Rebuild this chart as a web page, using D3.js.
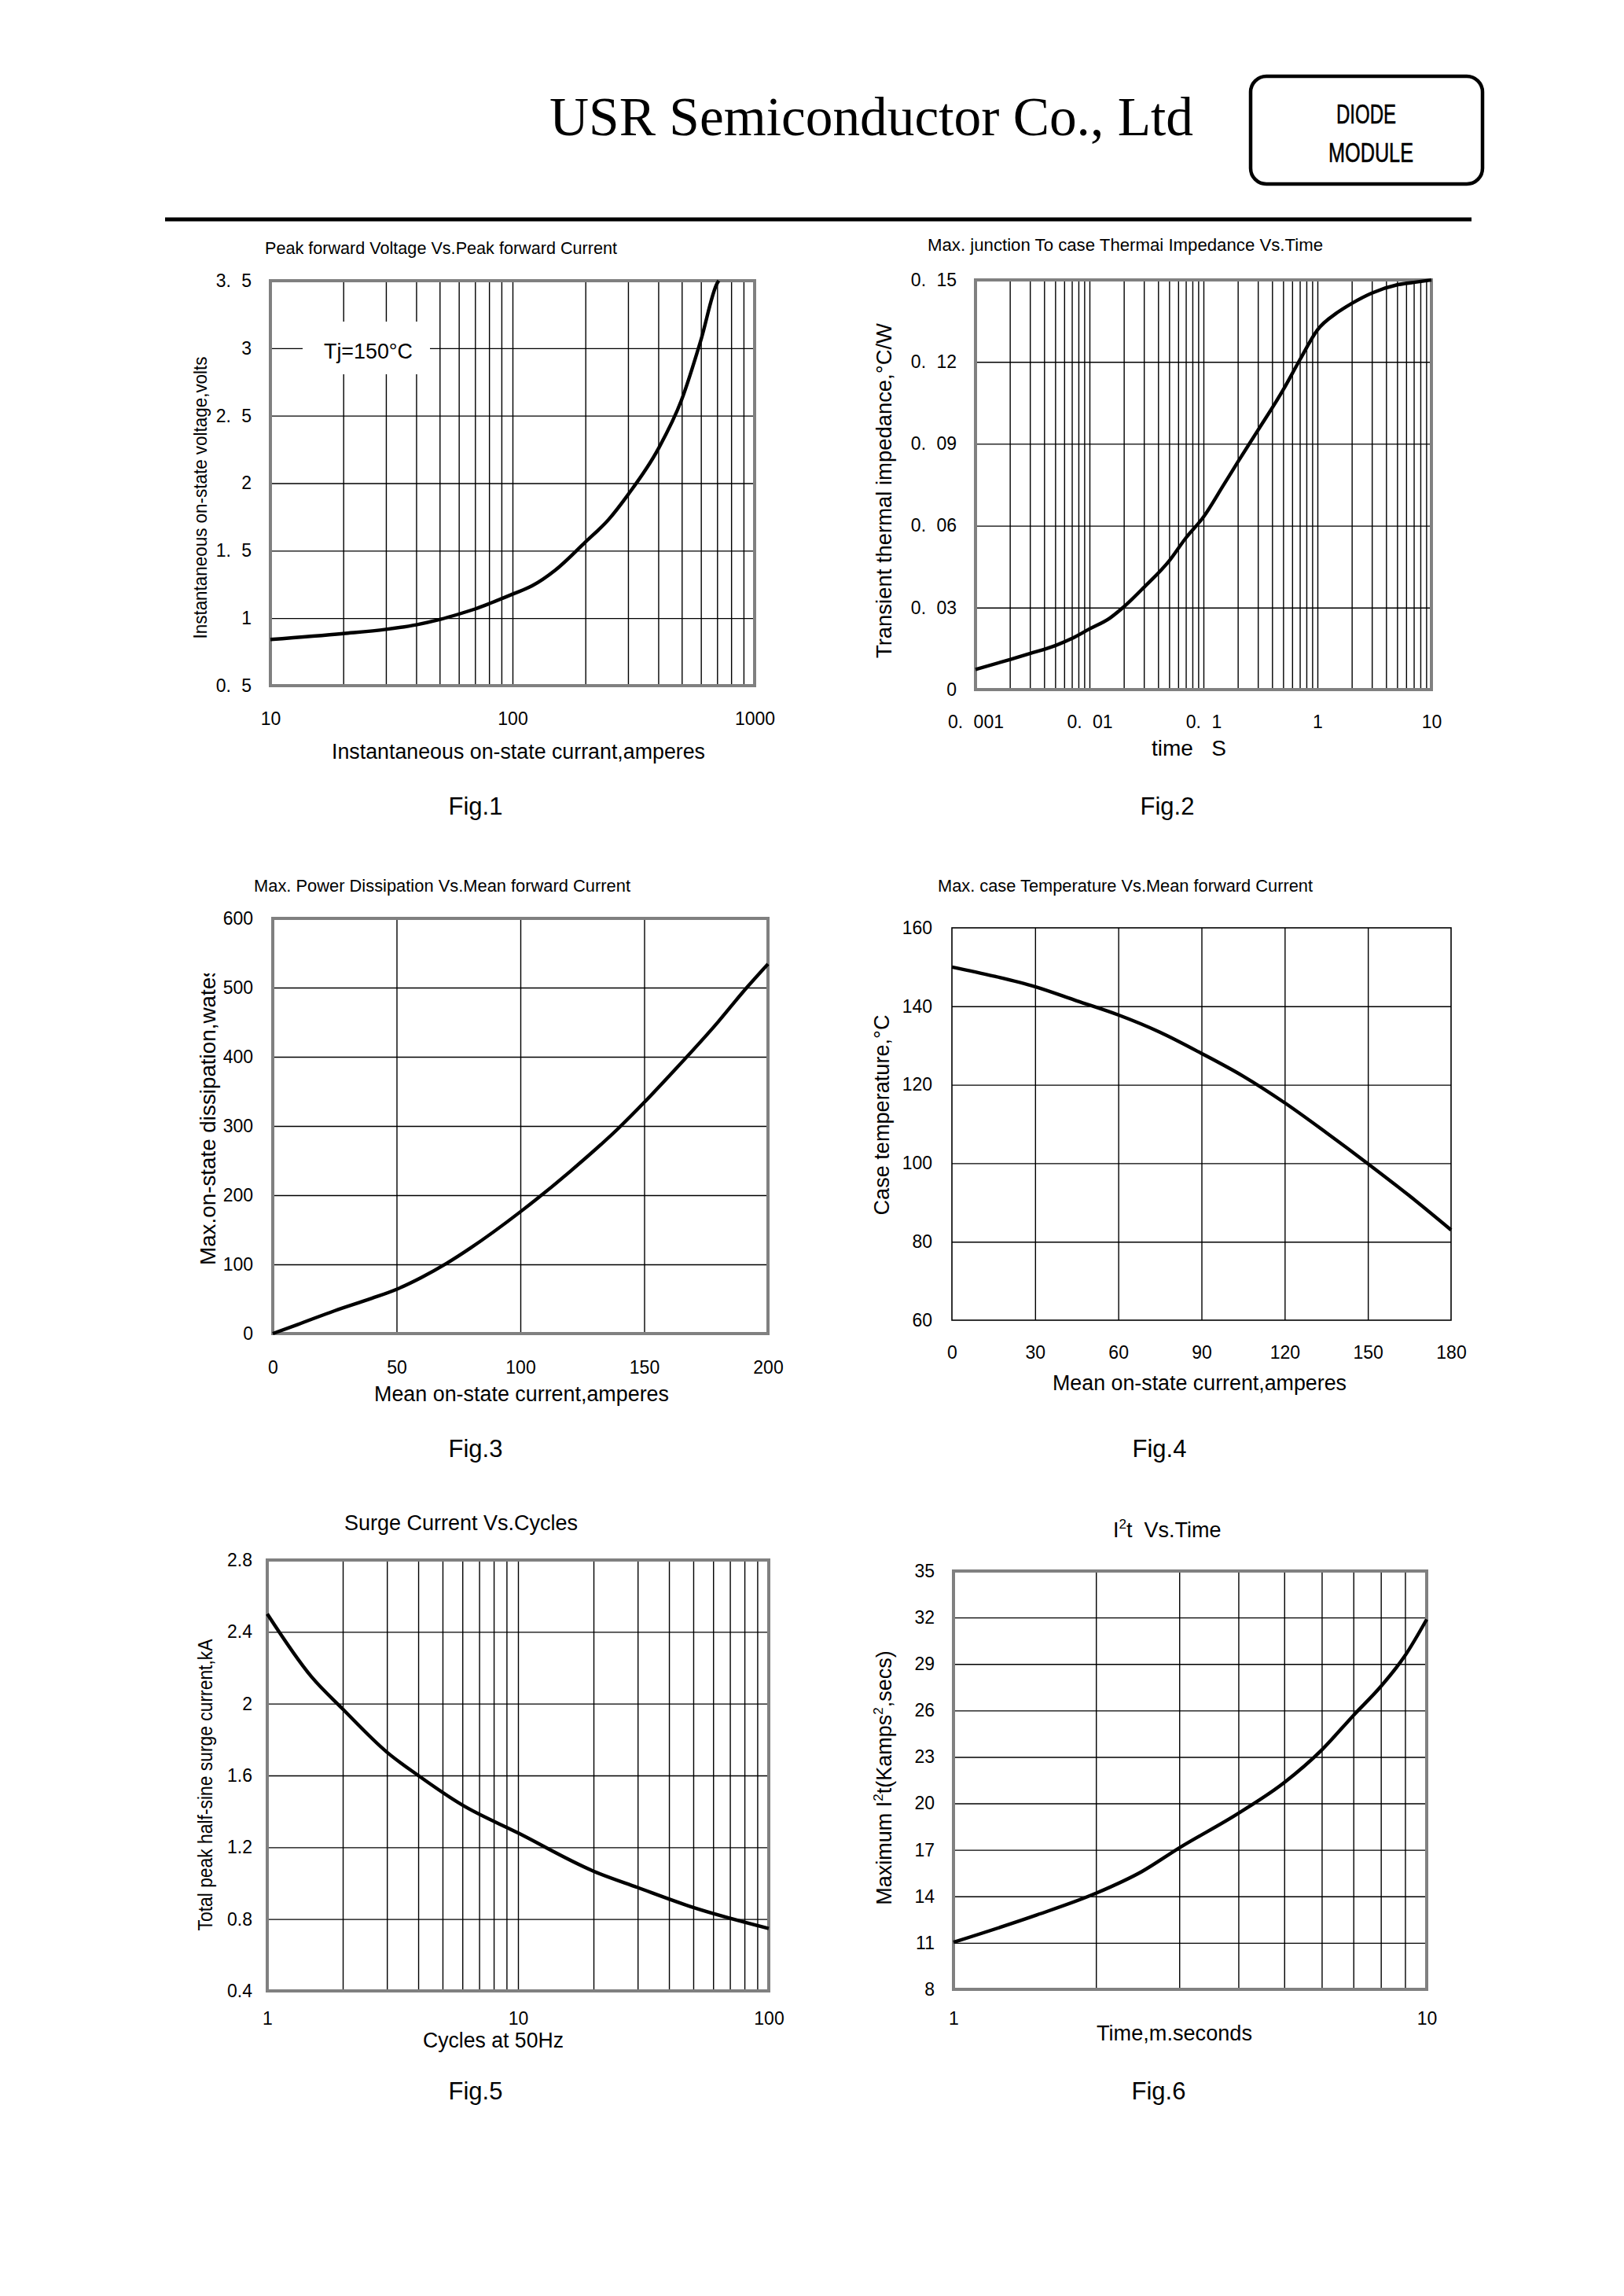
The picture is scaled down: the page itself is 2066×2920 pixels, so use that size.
<!DOCTYPE html>
<html>
<head>
<meta charset="utf-8">
<script src="https://cdn.jsdelivr.net/npm/d3@7"></script>
<style>
  body { margin: 0; background: #fff; }
  svg text { font-family: "Liberation Sans", Arial, sans-serif; fill: #000; white-space: pre; }
</style>
</head>
<body>
<div id="page"></div>
<script>
/**
 * DATA
 * */
const width = 2066, height = 2920;

// Fig.1 peak forward voltage vs current
const fig1Current = [10, 20, 30, 40, 50, 60, 70, 80, 100, 120, 150, 200, 250, 300, 400, 500, 600, 700, 711];
const fig1Voltage = [0.842, 0.886, 0.917, 0.951, 0.99, 1.03, 1.068, 1.107, 1.178, 1.238, 1.355, 1.564, 1.733, 1.915, 2.254, 2.62, 3.06, 3.48, 3.5];
const fig1YTicks = [0.5, 1, 1.5, 2, 2.5, 3, 3.5];
const fig1YLabels = ["0. 5", "1", "1. 5", "2", "2. 5", "3", "3. 5"];
const fig1XTicks = [10, 100, 1000];
const fig1XLabels = ["10", "100", "1000"];
const fig1XGrid = [20, 30, 40, 50, 60, 70, 80, 90, 100, 200, 300, 400, 500, 600, 700, 800, 900];
const fig1YGrid = [1, 1.5, 2, 2.5, 3];

// Fig.2 transient thermal impedance vs time
const fig2Time = [0.001, 0.002, 0.003, 0.005, 0.007, 0.01, 0.015, 0.02, 0.03, 0.05, 0.07, 0.1, 0.15, 0.2, 0.3, 0.5, 0.7, 1, 1.5, 2, 3, 5, 7, 10];
const fig2Zth = [0.0074, 0.011, 0.0132, 0.0161, 0.0187, 0.0222, 0.0261, 0.0303, 0.0374, 0.0471, 0.0555, 0.0632, 0.0749, 0.0833, 0.0949, 0.1097, 0.1207, 0.1317, 0.1381, 0.1414, 0.1452, 0.1482, 0.1491, 0.15];
const fig2YTicks = [0, 0.03, 0.06, 0.09, 0.12, 0.15];
const fig2YLabels = ["0", "0. 03", "0. 06", "0. 09", "0. 12", "0. 15"];
const fig2XTicks = [0.001, 0.01, 0.1, 1, 10];
const fig2XLabels = ["0. 001", "0. 01", "0. 1", "1", "10"];
const fig2XGrid = [0.002, 0.003, 0.004, 0.005, 0.006, 0.007, 0.008, 0.009, 0.01,
  0.02, 0.03, 0.04, 0.05, 0.06, 0.07, 0.08, 0.09, 0.1,
  0.2, 0.3, 0.4, 0.5, 0.6, 0.7, 0.8, 0.9, 1,
  2, 3, 4, 5, 6, 7, 8, 9];
const fig2YGrid = [0.03, 0.06, 0.09, 0.12];

// Fig.3 power dissipation vs mean current
const fig3Current = [0, 10, 25, 40, 50, 60, 70, 80, 100, 120, 140, 150, 160, 180, 190, 200];
const fig3Power = [0, 13, 33, 51, 64, 81, 101, 124, 176, 234, 298, 334, 372, 451, 494, 534];
const fig3YTicks = [0, 100, 200, 300, 400, 500, 600];
const fig3XTicks = [0, 50, 100, 150, 200];
const fig3XGrid = [50, 100, 150];
const fig3YGrid = [100, 200, 300, 400, 500];

// Fig.4 case temperature vs mean current
const fig4Current = [0, 15, 30, 45, 60, 75, 90, 105, 120, 135, 150, 165, 180];
const fig4Temp = [150.0, 147.7, 145.0, 141.4, 137.8, 133.4, 128.0, 122.2, 115.4, 107.8, 99.9, 91.7, 83.0];
const fig4YTicks = [60, 80, 100, 120, 140, 160];
const fig4XTicks = [0, 30, 60, 90, 120, 150, 180];
const fig4XGrid = [30, 60, 90, 120, 150];
const fig4YGrid = [80, 100, 120, 140];

// Fig.5 surge current vs cycles
const fig5Cycles = [1, 1.5, 2, 3, 4, 6, 10, 20, 30, 50, 100];
const fig5Surge = [2.5, 2.15, 1.97, 1.73, 1.6, 1.435, 1.28, 1.067, 0.976, 0.865, 0.748];
const fig5YTicks = [0.4, 0.8, 1.2, 1.6, 2, 2.4, 2.8];
const fig5YLabels = ["0.4", "0.8", "1.2", "1.6", "2", "2.4", "2.8"];
const fig5XTicks = [1, 10, 100];
const fig5XGrid = [2, 3, 4, 5, 6, 7, 8, 9, 10, 20, 30, 40, 50, 60, 70, 80, 90];
const fig5YGrid = [0.8, 1.2, 1.6, 2, 2.4];

// Fig.6 I2t vs time
const fig6Time = [1, 1.5, 2, 2.5, 3, 4, 5, 6, 7, 8, 9, 10];
const fig6I2t = [11.04, 12.8, 14.2, 15.6, 17.13, 19.36, 21.35, 23.45, 25.68, 27.55, 29.54, 31.88];
const fig6YTicks = [8, 11, 14, 17, 20, 23, 26, 29, 32, 35];
const fig6XTicks = [1, 10];
const fig6XGrid = [2, 3, 4, 5, 6, 7, 8, 9];
const fig6YGrid = [11, 14, 17, 20, 23, 26, 29, 32];

/**
 * PAGE
 * */
const svg = d3.select("#page").append("svg")
  .attr("width", width)
  .attr("height", height);

svg.append("rect").attr("width", width).attr("height", height).attr("fill", "#fff");

// header
svg.append("text")
  .attr("x", 699).attr("y", 172)
  .attr("textLength", 819).attr("lengthAdjust", "spacingAndGlyphs")
  .style("font-family", "'Liberation Serif', 'Times New Roman', serif")
  .attr("font-size", 70)
  .text("USR Semiconductor Co., Ltd");

svg.append("rect")
  .attr("x", 1591).attr("y", 97).attr("width", 295).attr("height", 137)
  .attr("rx", 20).attr("fill", "none").attr("stroke", "#000").attr("stroke-width", 4.5);
svg.append("text").attr("x", 1700).attr("y", 157)
  .attr("textLength", 76).attr("lengthAdjust", "spacingAndGlyphs")
  .attr("stroke", "#000").attr("stroke-width", 0.6)
  .attr("font-size", 35).text("DIODE");
svg.append("text").attr("x", 1690).attr("y", 206)
  .attr("textLength", 108).attr("lengthAdjust", "spacingAndGlyphs")
  .attr("stroke", "#000").attr("stroke-width", 0.6)
  .attr("font-size", 35).text("MODULE");

svg.append("line")
  .attr("x1", 210).attr("x2", 1872).attr("y1", 279).attr("y2", 279)
  .attr("stroke", "#000").attr("stroke-width", 5);

/**
 * PANEL FUNCTION
 * */
function panel(cfg) {
  const x = cfg.x, y = cfg.y;
  const [x0, x1] = x.range();
  const [y0, y1] = y.range(); // y0 = bottom, y1 = top
  const g = svg.append("g");

  // grid
  g.append("g").attr("transform", `translate(0,${y0})`)
    .call(d3.axisBottom(x).tickValues(cfg.xGrid).tickSize(-(y0 - y1)).tickFormat(""))
    .call(a => a.select(".domain").remove())
    .selectAll("line").attr("stroke", "#000").attr("stroke-width", 1.4);
  g.append("g").attr("transform", `translate(${x0},0)`)
    .call(d3.axisLeft(y).tickValues(cfg.yGrid).tickSize(-(x1 - x0)).tickFormat(""))
    .call(a => a.select(".domain").remove())
    .selectAll("line").attr("stroke", "#000").attr("stroke-width", 1.4);

  if (cfg.note) cfg.note(g, x, y);

  // frame
  g.append("rect")
    .attr("x", x0).attr("y", y1).attr("width", x1 - x0).attr("height", y0 - y1)
    .attr("fill", "none")
    .attr("stroke", cfg.frameColor).attr("stroke-width", cfg.frameWidth);

  // curve
  g.append("path")
    .datum(d3.zip(cfg.xs, cfg.ys))
    .attr("fill", "none").attr("stroke", "#000").attr("stroke-width", 4.4)
    .attr("stroke-linejoin", "round")
    .attr("d", d3.line().x(d => x(d[0])).y(d => y(d[1])).curve(d3.curveMonotoneX));

  // tick labels
  g.append("g").attr("transform", `translate(${x0},0)`)
    .call(d3.axisLeft(y).tickValues(cfg.yTicks).tickSize(0).tickPadding(cfg.yPad)
      .tickFormat((d, i) => cfg.yLabels ? cfg.yLabels[i] : d))
    .call(a => a.select(".domain").remove())
    .attr("font-size", 23).attr("font-family", null)
    .style("word-spacing", "7px");
  g.append("g").attr("transform", `translate(0,${y0})`)
    .call(d3.axisBottom(x).tickValues(cfg.xTicks).tickSize(0).tickPadding(cfg.xPad)
      .tickFormat((d, i) => cfg.xLabels ? cfg.xLabels[i] : d))
    .call(a => a.select(".domain").remove())
    .attr("font-size", 23).attr("font-family", null)
    .style("word-spacing", "7px");

  // chart title
  const t = g.append("text")
    .attr("x", cfg.title.x).attr("y", cfg.title.y)
    .attr("font-size", cfg.title.size || 22);
  if (cfg.title.len) t.attr("textLength", cfg.title.len).attr("lengthAdjust", "spacingAndGlyphs");
  if (cfg.title.build) cfg.title.build(t); else t.text(cfg.title.text);

  // x axis title
  const xt = g.append("text")
    .attr("x", cfg.xTitle.x).attr("y", cfg.xTitle.y)
    .attr("font-size", cfg.xTitle.size || 27)
    .attr("text-anchor", cfg.xTitle.anchor || "start")
    .text(cfg.xTitle.text);
  if (cfg.xTitle.len) xt.attr("textLength", cfg.xTitle.len).attr("lengthAdjust", "spacingAndGlyphs");

  // y axis title (rotated)
  let yg = g.append("g");
  if (cfg.yTitle.clipTop) {
    const id = "clip" + cfg.id;
    svg.append("clipPath").attr("id", id).append("rect")
      .attr("x", 0).attr("y", cfg.yTitle.clipTop).attr("width", width).attr("height", 2000);
    yg.attr("clip-path", `url(#${id})`);
  }
  const yt = yg.append("text")
    .attr("transform", `translate(${cfg.yTitle.x},${cfg.yTitle.y}) rotate(-90)`)
    .attr("font-size", cfg.yTitle.size || 27)
    .attr("text-anchor", cfg.yTitle.anchor || "middle");
  if (cfg.yTitle.len) yt.attr("textLength", cfg.yTitle.len).attr("lengthAdjust", "spacingAndGlyphs");
  if (cfg.yTitle.build) cfg.yTitle.build(yt); else yt.text(cfg.yTitle.text);

  // figure label
  svg.append("text")
    .attr("x", cfg.fig.x).attr("y", cfg.fig.y)
    .attr("text-anchor", "middle").attr("font-size", 31)
    .text(cfg.fig.text);
}

const GRAY = "#808080";

// Fig.1
panel({
  id: 1,
  x: d3.scaleLog().domain([10, 1000]).range([344, 960]),
  y: d3.scaleLinear().domain([0.5, 3.5]).range([872, 357]),
  xs: fig1Current, ys: fig1Voltage,
  xTicks: fig1XTicks, xLabels: fig1XLabels, yTicks: fig1YTicks, yLabels: fig1YLabels,
  xGrid: fig1XGrid, yGrid: fig1YGrid,
  xPad: 34, yPad: 24,
  frameColor: GRAY, frameWidth: 4,
  note: (g, x, y) => {
    g.append("rect").attr("x", 385).attr("y", 409).attr("width", 162).attr("height", 67).attr("fill", "#fff");
    g.append("text").attr("x", 412).attr("y", 456).attr("font-size", 28)
      .attr("textLength", 113).attr("lengthAdjust", "spacingAndGlyphs").text("Tj=150°C");
  },
  title: { x: 337, y: 323, len: 448, text: "Peak forward Voltage Vs.Peak forward Current" },
  xTitle: { x: 422, y: 965, len: 475, text: "Instantaneous on-state currant,amperes" },
  yTitle: { x: 263, y: 633, len: 359, size: 24, text: "Instantaneous on-state voltage,volts" },
  fig: { x: 605, y: 1036, text: "Fig.1" }
});

// Fig.2
panel({
  id: 2,
  x: d3.scaleLog().domain([0.001, 10]).range([1241, 1821]),
  y: d3.scaleLinear().domain([0, 0.15]).range([877, 356]),
  xs: fig2Time, ys: fig2Zth,
  xTicks: fig2XTicks, xLabels: fig2XLabels, yTicks: fig2YTicks, yLabels: fig2YLabels,
  xGrid: fig2XGrid, yGrid: fig2YGrid,
  xPad: 33, yPad: 24,
  frameColor: GRAY, frameWidth: 4,
  title: { x: 1180, y: 319, len: 503, text: "Max. junction To case Thermai Impedance Vs.Time" },
  xTitle: { x: 1465, y: 961, size: 28, text: "time   S" },
  yTitle: { x: 1134, y: 624, len: 426, size: 28, text: "Transient thermal impedance,°C/W" },
  fig: { x: 1485, y: 1036, text: "Fig.2" }
});

// Fig.3
panel({
  id: 3,
  x: d3.scaleLinear().domain([0, 200]).range([347, 977]),
  y: d3.scaleLinear().domain([0, 600]).range([1696, 1168]),
  xs: fig3Current, ys: fig3Power,
  xTicks: fig3XTicks, yTicks: fig3YTicks,
  xGrid: fig3XGrid, yGrid: fig3YGrid,
  xPad: 35, yPad: 25,
  frameColor: GRAY, frameWidth: 4,
  title: { x: 323, y: 1134, len: 479, text: "Max. Power Dissipation Vs.Mean forward Current" },
  xTitle: { x: 476, y: 1782, len: 375, text: "Mean on-state current,amperes" },
  yTitle: { x: 274, y: 1609, len: 380, anchor: "start", clipTop: 1238, text: "Max.on-state dissipation,wates" },
  fig: { x: 605, y: 1853, text: "Fig.3" }
});

// Fig.4
panel({
  id: 4,
  x: d3.scaleLinear().domain([0, 180]).range([1211, 1846]),
  y: d3.scaleLinear().domain([60, 160]).range([1679, 1180]),
  xs: fig4Current, ys: fig4Temp,
  xTicks: fig4XTicks, yTicks: fig4YTicks,
  xGrid: fig4XGrid, yGrid: fig4YGrid,
  xPad: 33, yPad: 25,
  frameColor: "#000", frameWidth: 1.6,
  title: { x: 1193, y: 1134, len: 477, text: "Max. case Temperature Vs.Mean forward Current" },
  xTitle: { x: 1339, y: 1768, len: 374, text: "Mean on-state current,amperes" },
  yTitle: { x: 1131, y: 1418, len: 255, text: "Case temperature,°C" },
  fig: { x: 1475, y: 1853, text: "Fig.4" }
});

// Fig.5
panel({
  id: 5,
  x: d3.scaleLog().domain([1, 100]).range([340, 978]),
  y: d3.scaleLinear().domain([0.4, 2.8]).range([2532, 1984]),
  xs: fig5Cycles, ys: fig5Surge,
  xTicks: fig5XTicks, yTicks: fig5YTicks, yLabels: fig5YLabels,
  xGrid: fig5XGrid, yGrid: fig5YGrid,
  xPad: 27, yPad: 19,
  frameColor: GRAY, frameWidth: 4,
  title: { x: 438, y: 1946, len: 297, size: 27, text: "Surge Current Vs.Cycles" },
  xTitle: { x: 538, y: 2604, len: 179, text: "Cycles at 50Hz" },
  yTitle: { x: 270, y: 2270, len: 371, size: 26, text: "Total peak half-sine surge current,kA" },
  fig: { x: 605, y: 2670, text: "Fig.5" }
});

// Fig.6
panel({
  id: 6,
  x: d3.scaleLog().domain([1, 10]).range([1213, 1815]),
  y: d3.scaleLinear().domain([8, 35]).range([2530, 1998]),
  xs: fig6Time, ys: fig6I2t,
  xTicks: fig6XTicks, yTicks: fig6YTicks,
  xGrid: fig6XGrid, yGrid: fig6YGrid,
  xPad: 29, yPad: 24,
  frameColor: GRAY, frameWidth: 4,
  title: { x: 1416, y: 1955, size: 27, build: t => {
    t.append("tspan").text("I");
    t.append("tspan").attr("font-size", 17).attr("dy", -11).text("2");
    t.append("tspan").attr("dy", 11).text("t  Vs.Time");
  } },
  xTitle: { x: 1395, y: 2595, len: 198, text: "Time,m.seconds" },
  yTitle: { x: 1134, y: 2261, size: 27, build: t => {
    t.append("tspan").text("Maximum I");
    t.append("tspan").attr("font-size", 17).attr("dy", -11).text("2");
    t.append("tspan").attr("dy", 11).text("t(Kamps");
    t.append("tspan").attr("font-size", 17).attr("dy", -11).text("2");
    t.append("tspan").attr("dy", 11).text(",secs)");
  } },
  fig: { x: 1474, y: 2670, text: "Fig.6" }
});
</script>
</body>
</html>
